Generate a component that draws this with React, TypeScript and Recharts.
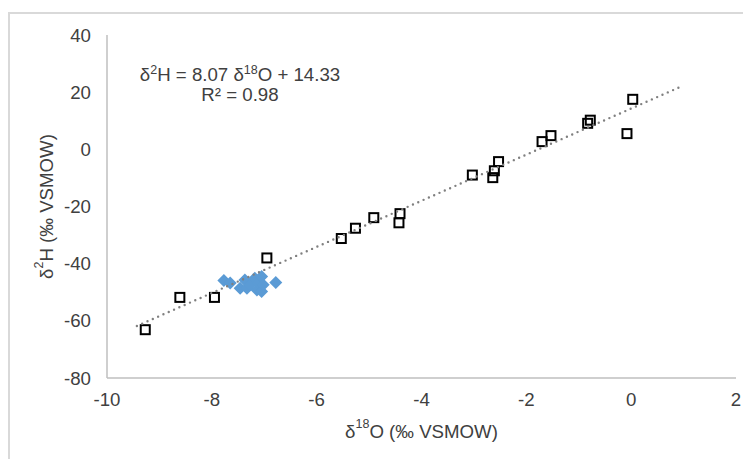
import React from 'react';
import { ScatterChart, Scatter, XAxis, YAxis, Label } from 'recharts';

const squareX = [-9.27, -8.61, -7.95, -6.95, -5.53, -5.26, -4.91, -4.41, -4.43, -3.03, -2.64, -2.61, -2.53, -1.70, -1.53, -0.83, -0.78, 0.03, -0.08];
const squareY = [-63.1, -51.8, -51.8, -38.0, -31.2, -27.6, -23.9, -22.5, -25.7, -9.0, -9.9, -7.5, -4.3, 2.7, 4.8, 9.1, 10.2, 17.5, 5.5];

const diamondX = [-7.77, -7.65, -7.46, -7.37, -7.33, -7.27, -7.18, -7.14, -7.11, -7.05, -7.05, -7.02, -6.78];
const diamondY = [-45.9, -46.8, -48.6, -45.7, -48.6, -47.4, -45.1, -49.2, -46.8, -44.5, -49.7, -47.4, -46.6];

const trendX = [-9.43, 0.92];
const trendY = [-61.8, 21.7];

const xTicks = [-10, -8, -6, -4, -2, 0, 2];
const yTicks = [-80, -60, -40, -20, 0, 20, 40];

const squares = squareX.map((x, i) => ({ x, y: squareY[i] }));
const diamonds = diamondX.map((x, i) => ({ x, y: diamondY[i] }));
const trend = trendX.map((x, i) => ({ x, y: trendY[i] }));

const FONT = '"Liberation Sans", Arial, sans-serif';
const TXT = '#404040';
const FS = 18.67;

const SquareShape = (p: any) => {
  const { cx, cy } = p;
  if (cx == null || cy == null) return <g />;
  return <rect x={cx - 4.5} y={cy - 4.5} width={9} height={9} fill="none" stroke="#000" strokeWidth={2} />;
};

const DiamondShape = (p: any) => {
  const { cx, cy } = p;
  if (cx == null || cy == null) return <g />;
  const r = 6.5;
  return <path d={`M${cx},${cy - r}L${cx + r},${cy}L${cx},${cy + r}L${cx - r},${cy}Z`} fill="#5B9BD5" stroke="none" />;
};

const NoShape = () => <g />;

const XTitle = (props: any) => {
  const vb = props.viewBox || {};
  const cx = vb.x + vb.width / 2;
  const cy = 423;
  return (
    <text x={cx} y={cy} textAnchor="middle" dominantBaseline="central" fill={TXT} fontFamily={FONT} fontSize={FS}>
      <tspan>δ</tspan>
      <tspan dy={-7} fontSize={12.5}>18</tspan>
      <tspan dy={7}>O (‰ VSMOW)</tspan>
    </text>
  );
};

const YTitle = (props: any) => {
  const vb = props.viewBox || {};
  const cx = 38;
  const cy = vb.y + vb.height / 2;
  return (
    <text x={cx} y={cy} transform={`rotate(-90, ${cx}, ${cy})`} textAnchor="middle" dominantBaseline="central" fill={TXT} fontFamily={FONT} fontSize={FS}>
      <tspan>δ</tspan>
      <tspan dy={-7} fontSize={12.5}>2</tspan>
      <tspan dy={7}>H (‰ VSMOW)</tspan>
    </text>
  );
};

export default function App() {
  return (
    <div style={{ position: 'relative', width: 743, height: 451, overflow: 'hidden', fontFamily: FONT }}>
      <div
        style={{
          position: 'absolute',
          left: 0,
          top: 4,
          width: 800,
          height: 500,
          borderLeft: '2px solid #D9D9D9',
          borderTop: '2px solid #D9D9D9',
        }}
      />
      <div style={{ position: 'absolute', left: 0, top: 0 }}>
        <ScatterChart width={743} height={451} margin={{ top: 27, right: 15, left: 0, bottom: 0 }}>
          <XAxis
            type="number"
            dataKey="x"
            domain={[-10, 2]}
            ticks={xTicks}
            allowDataOverflow
            height={81}
            axisLine={{ stroke: '#BFBFBF', strokeWidth: 1.5 }}
            tickLine={false}
            tickSize={0}
            tickMargin={15}
            tick={{ fill: TXT, fontSize: FS, fontFamily: FONT }}
            label={<Label content={XTitle} />}
          />
          <YAxis
            type="number"
            dataKey="y"
            domain={[-80, 40]}
            ticks={yTicks}
            allowDataOverflow
            width={99}
            axisLine={{ stroke: '#BFBFBF', strokeWidth: 1.5 }}
            tickLine={false}
            tickSize={0}
            tickMargin={16}
            tick={{ fill: TXT, fontSize: FS, fontFamily: FONT }}
            label={<Label content={YTitle} />}
          />
          <Scatter data={squares} shape={SquareShape} isAnimationActive={false} />
          <Scatter data={diamonds} shape={DiamondShape} isAnimationActive={false} />
          <Scatter
            data={trend}
            shape={NoShape}
            line={{ stroke: '#808080', strokeWidth: 2.4, strokeDasharray: '0 5.8', strokeLinecap: 'round' }}
            isAnimationActive={false}
          />
        </ScatterChart>
      </div>
      <div
        style={{
          position: 'absolute',
          left: 82,
          top: 57,
          width: 300,
          textAlign: 'center',
          fontSize: FS,
          lineHeight: '20px',
          color: TXT,
          fontFamily: FONT,
        }}
      >
        <div>
          δ<span style={{ fontSize: 12.5, verticalAlign: 'super', lineHeight: 0 }}>2</span>H = 8.07 δ
          <span style={{ fontSize: 12.5, verticalAlign: 'super', lineHeight: 0 }}>18</span>O + 14.33
        </div>
        <div>R² = 0.98</div>
      </div>
    </div>
  );
}
